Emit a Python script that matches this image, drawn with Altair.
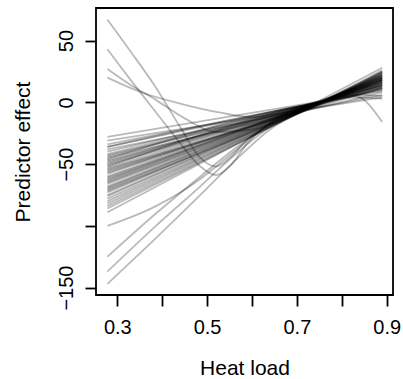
import altair as alt
import pandas as pd

# Straight-ish bundle lines: value at left end (x=0.278) and right end (x=0.89)
bundle_x = [0.278, 0.89]
bundle_start = [-28, -31, -34, -36, -38, -40, -42, -43, -44, -45, -47, -48, -49, -50, -51,
                 -53, -54, -55, -56, -57, -58, -60, -61, -62, -63, -64, -65, -66, -68, -69,
                 -70, -71, -72, -73, -75, -76, -78, -80, -82, -84, -86, -89]
bundle_end = [9, 4, 10, 11, 6, 12, 13, 11, 13, 8, 14, 14, 16, 15, 15,
              16, 12, 16, 14, 17, 17, 18, 18, 18, 20, 19, 19, 19, 20, 20,
              20, 18, 21, 21, 22, 22, 22, 23, 24, 24, 25, 28]

# Curved / outlying lines
a_x = [0.278, 0.33, 0.386, 0.44, 0.485, 0.52, 0.55, 0.59, 0.65, 0.76, 0.89]
a_y = [67, 41, 12, -20, -45, -52, -45, -30, -15, 1, 18]
b_x = [0.278, 0.33, 0.386, 0.44, 0.485, 0.52, 0.55, 0.59, 0.65, 0.76, 0.89]
b_y = [43, 18, -8, -33, -52, -59, -52, -33, -14, 1, 16]
c_x = [0.278, 0.33, 0.386, 0.45, 0.52, 0.60, 0.68, 0.76, 0.89]
c_y = [27, 14, 2, -13, -24, -22, -12, 0, 14]
d_x = [0.278, 0.35, 0.44, 0.53, 0.60, 0.68, 0.76, 0.89]
d_y = [20, 8.6, -1, -8.4, -12, -5, 0, 12]
low_x = [0.278, 0.386, 0.485, 0.56, 0.64, 0.76, 0.89]
e_y = [-100, -84, -62, -40, -18, 0, 25]
f_y = [-125, -90, -60, -38, -18, 0, 22]
g_y = [-137, -100, -68, -43, -20, 0, 24]
h_y = [-147, -110, -75, -48, -22, 1, 26]
tail_x = [0.278, 0.76, 0.83, 0.89]
r_y = [-46, 1, 5, -16]
p_y = [-36, 0, 4, 3]
q_y = [-52, 1, 6, 5]

x_ticks = [0.3, 0.4, 0.5, 0.6, 0.7, 0.8, 0.9]
y_ticks = [50, 0, -50, -100, -150]

rows = []
for i, (s, e) in enumerate(zip(bundle_start, bundle_end)):
    for xv, yv in zip(bundle_x, [s, e]):
        rows.append({"line": f"b{i}", "x": xv, "y": yv})
curves = {"A": (a_x, a_y), "B": (b_x, b_y), "C": (c_x, c_y), "D": (d_x, d_y),
          "E": (low_x, e_y), "F": (low_x, f_y), "G": (low_x, g_y), "H": (low_x, h_y),
          "R": (tail_x, r_y), "P": (tail_x, p_y), "Q": (tail_x, q_y)}
for name, (xs, ys) in curves.items():
    for xv, yv in zip(xs, ys):
        rows.append({"line": name, "x": xv, "y": yv})
df = pd.DataFrame(rows)

FONT = "Liberation Sans"

chart = alt.Chart(df).mark_line(
    color="black", opacity=0.27, strokeWidth=1.8, interpolate="monotone"
).encode(
    x=alt.X("x:Q", scale=alt.Scale(domain=[0.2526, 0.914], nice=False, zero=False),
            axis=alt.Axis(title="Heat load", values=x_ticks, format=".1f",
                          labelExpr="(datum.label=='0.3'||datum.label=='0.5'||datum.label=='0.7'||datum.label=='0.9') ? datum.label : ''",
                          labelBaseline="alphabetic", labelPadding=27,
                          titleX=148.5, titleY=79, titleBaseline="alphabetic",
                          titleAlign="center")),
    y=alt.Y("y:Q", scale=alt.Scale(domain=[-156, 76.4], nice=False, zero=False),
            axis=alt.Axis(title="Predictor effect", values=y_ticks, format="d",
                          labelExpr="datum.value == -100 ? '' : replace(datum.label, '-', '\u2212')",
                          labelAngle=270, labelAlign="center", labelBaseline="alphabetic",
                          labelPadding=13, titleX=-67, titleY=143.5,
                          titleBaseline="alphabetic", titleAlign="center", titleAngle=270)),
    detail="line:N",
).properties(
    width=297, height=287,
    autosize=alt.AutoSizeParams(type="none"),
    padding={"left": 96, "top": 8, "right": 10, "bottom": 84},
).configure_view(
    stroke="black", strokeWidth=1.8
).configure_axis(
    domain=False, grid=False, ticks=True, tickColor="black", tickWidth=1.8, tickSize=11,
    labelFont=FONT, labelFontSize=20, labelColor="black",
    titleFont=FONT, titleFontSize=21, titleFontWeight="normal", titleColor="black",
    labelOverlap=False, labelFlush=False,
)

chart.save("out.html", embed_options={"renderer": "svg", "actions": False})
